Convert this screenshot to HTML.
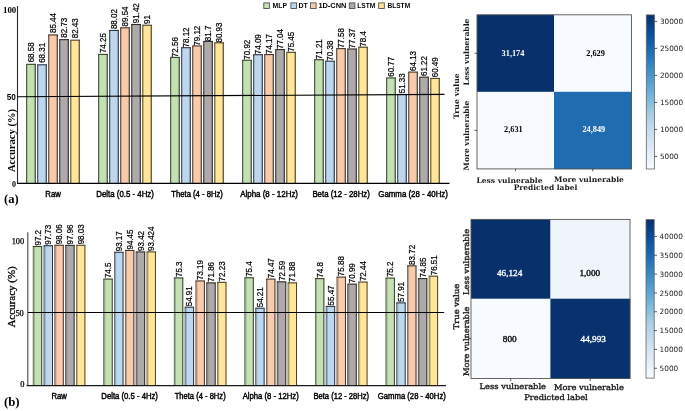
<!DOCTYPE html>
<html><head><meta charset="utf-8"><title>Accuracy and confusion matrices</title>
<style>html,body{margin:0;padding:0;background:#fff;}svg{display:block;filter:blur(0.3px);}</style></head>
<body><svg width="685" height="411" viewBox="0 0 685 411">
<rect width="685" height="411" fill="#fff"/>
<rect x="26.20" y="64.27" width="9.70" height="118.83" fill="#c5e0b3"/>
<rect x="33.90" y="64.27" width="1.2" height="118.83" fill="rgba(70,70,70,0.35)"/>
<rect x="35.10" y="64.27" width="0.8" height="118.83" fill="#34402c"/>
<rect x="26.20" y="64.27" width="1.0" height="118.83" fill="#34402c"/>
<rect x="26.20" y="63.77" width="9.70" height="1.1" fill="#34402c"/>
<text transform="translate(34.15,62.37) rotate(-90)" font-size="8.4" font-family='"Liberation Sans", Arial, sans-serif' font-weight="normal" text-anchor="start" fill="#000" textLength="19.97" lengthAdjust="spacingAndGlyphs" stroke="#000" stroke-width="0.22">68.58</text>
<rect x="37.23" y="64.74" width="9.70" height="118.36" fill="#bdd7ee"/>
<rect x="44.93" y="64.74" width="1.2" height="118.36" fill="rgba(70,70,70,0.35)"/>
<rect x="46.13" y="64.74" width="0.8" height="118.36" fill="#2a3544"/>
<rect x="37.23" y="64.74" width="1.0" height="118.36" fill="#2a3544"/>
<rect x="37.23" y="64.24" width="9.70" height="1.1" fill="#2a3544"/>
<text transform="translate(45.18,62.84) rotate(-90)" font-size="8.4" font-family='"Liberation Sans", Arial, sans-serif' font-weight="normal" text-anchor="start" fill="#000" textLength="19.97" lengthAdjust="spacingAndGlyphs" stroke="#000" stroke-width="0.22">68.31</text>
<rect x="48.26" y="34.88" width="9.70" height="148.22" fill="#f8cbad"/>
<rect x="55.96" y="34.88" width="1.2" height="148.22" fill="rgba(70,70,70,0.35)"/>
<rect x="57.16" y="34.88" width="0.8" height="148.22" fill="#443328"/>
<rect x="48.26" y="34.88" width="1.0" height="148.22" fill="#443328"/>
<rect x="48.26" y="34.38" width="9.70" height="1.1" fill="#443328"/>
<text transform="translate(56.21,32.98) rotate(-90)" font-size="8.4" font-family='"Liberation Sans", Arial, sans-serif' font-weight="normal" text-anchor="start" fill="#000" textLength="19.97" lengthAdjust="spacingAndGlyphs" stroke="#000" stroke-width="0.22">85.44</text>
<rect x="59.29" y="39.60" width="9.70" height="143.50" fill="#aeaaaa"/>
<rect x="66.99" y="39.60" width="1.2" height="143.50" fill="rgba(70,70,70,0.35)"/>
<rect x="68.19" y="39.60" width="0.8" height="143.50" fill="#2e2c2c"/>
<rect x="59.29" y="39.60" width="1.0" height="143.50" fill="#2e2c2c"/>
<rect x="59.29" y="39.10" width="9.70" height="1.1" fill="#2e2c2c"/>
<text transform="translate(67.24,37.70) rotate(-90)" font-size="8.4" font-family='"Liberation Sans", Arial, sans-serif' font-weight="normal" text-anchor="start" fill="#000" textLength="19.97" lengthAdjust="spacingAndGlyphs" stroke="#000" stroke-width="0.22">82.73</text>
<rect x="70.32" y="40.12" width="9.70" height="142.98" fill="#ffe699"/>
<rect x="78.02" y="40.12" width="1.2" height="142.98" fill="rgba(70,70,70,0.35)"/>
<rect x="79.22" y="40.12" width="0.8" height="142.98" fill="#4a4124"/>
<rect x="70.32" y="40.12" width="1.0" height="142.98" fill="#4a4124"/>
<rect x="70.32" y="39.62" width="9.70" height="1.1" fill="#4a4124"/>
<text transform="translate(78.27,38.22) rotate(-90)" font-size="8.4" font-family='"Liberation Sans", Arial, sans-serif' font-weight="normal" text-anchor="start" fill="#000" textLength="19.97" lengthAdjust="spacingAndGlyphs" stroke="#000" stroke-width="0.22">82.43</text>
<text x="53.11" y="197.00" font-size="8.3" font-family='"Liberation Sans", Arial, sans-serif' font-weight="normal" text-anchor="middle" fill="#000" textLength="15.6" lengthAdjust="spacingAndGlyphs" stroke="#000" stroke-width="0.42">Raw</text>
<rect x="98.20" y="54.38" width="9.70" height="128.72" fill="#c5e0b3"/>
<rect x="105.90" y="54.38" width="1.2" height="128.72" fill="rgba(70,70,70,0.35)"/>
<rect x="107.10" y="54.38" width="0.8" height="128.72" fill="#34402c"/>
<rect x="98.20" y="54.38" width="1.0" height="128.72" fill="#34402c"/>
<rect x="98.20" y="53.88" width="9.70" height="1.1" fill="#34402c"/>
<text transform="translate(106.15,53.08) rotate(-90)" font-size="8.4" font-family='"Liberation Sans", Arial, sans-serif' font-weight="normal" text-anchor="start" fill="#000" textLength="19.97" lengthAdjust="spacingAndGlyphs" stroke="#000" stroke-width="0.22">74.25</text>
<rect x="109.23" y="30.38" width="9.70" height="152.72" fill="#bdd7ee"/>
<rect x="116.93" y="30.38" width="1.2" height="152.72" fill="rgba(70,70,70,0.35)"/>
<rect x="118.13" y="30.38" width="0.8" height="152.72" fill="#2a3544"/>
<rect x="109.23" y="30.38" width="1.0" height="152.72" fill="#2a3544"/>
<rect x="109.23" y="29.88" width="9.70" height="1.1" fill="#2a3544"/>
<text transform="translate(117.18,29.08) rotate(-90)" font-size="8.4" font-family='"Liberation Sans", Arial, sans-serif' font-weight="normal" text-anchor="start" fill="#000" textLength="19.97" lengthAdjust="spacingAndGlyphs" stroke="#000" stroke-width="0.22">88.02</text>
<rect x="120.26" y="27.73" width="9.70" height="155.37" fill="#f8cbad"/>
<rect x="127.96" y="27.73" width="1.2" height="155.37" fill="rgba(70,70,70,0.35)"/>
<rect x="129.16" y="27.73" width="0.8" height="155.37" fill="#443328"/>
<rect x="120.26" y="27.73" width="1.0" height="155.37" fill="#443328"/>
<rect x="120.26" y="27.23" width="9.70" height="1.1" fill="#443328"/>
<text transform="translate(128.21,26.43) rotate(-90)" font-size="8.4" font-family='"Liberation Sans", Arial, sans-serif' font-weight="normal" text-anchor="start" fill="#000" textLength="19.97" lengthAdjust="spacingAndGlyphs" stroke="#000" stroke-width="0.22">89.54</text>
<rect x="131.29" y="24.45" width="9.70" height="158.65" fill="#aeaaaa"/>
<rect x="138.99" y="24.45" width="1.2" height="158.65" fill="rgba(70,70,70,0.35)"/>
<rect x="140.19" y="24.45" width="0.8" height="158.65" fill="#2e2c2c"/>
<rect x="131.29" y="24.45" width="1.0" height="158.65" fill="#2e2c2c"/>
<rect x="131.29" y="23.95" width="9.70" height="1.1" fill="#2e2c2c"/>
<text transform="translate(139.24,23.15) rotate(-90)" font-size="8.4" font-family='"Liberation Sans", Arial, sans-serif' font-weight="normal" text-anchor="start" fill="#000" textLength="19.97" lengthAdjust="spacingAndGlyphs" stroke="#000" stroke-width="0.22">91.42</text>
<rect x="142.32" y="25.19" width="9.70" height="157.91" fill="#ffe699"/>
<rect x="150.02" y="25.19" width="1.2" height="157.91" fill="rgba(70,70,70,0.35)"/>
<rect x="151.22" y="25.19" width="0.8" height="157.91" fill="#4a4124"/>
<rect x="142.32" y="25.19" width="1.0" height="157.91" fill="#4a4124"/>
<rect x="142.32" y="24.69" width="9.70" height="1.1" fill="#4a4124"/>
<text transform="translate(150.27,23.89) rotate(-90)" font-size="8.4" font-family='"Liberation Sans", Arial, sans-serif' font-weight="normal" text-anchor="start" fill="#000" textLength="8.88" lengthAdjust="spacingAndGlyphs" stroke="#000" stroke-width="0.22">91</text>
<text x="125.11" y="197.00" font-size="8.3" font-family='"Liberation Sans", Arial, sans-serif' font-weight="normal" text-anchor="middle" fill="#000" textLength="57.6" lengthAdjust="spacingAndGlyphs" stroke="#000" stroke-width="0.42">Delta (0.5 - 4Hz)</text>
<rect x="170.20" y="57.33" width="9.70" height="125.77" fill="#c5e0b3"/>
<rect x="177.90" y="57.33" width="1.2" height="125.77" fill="rgba(70,70,70,0.35)"/>
<rect x="179.10" y="57.33" width="0.8" height="125.77" fill="#34402c"/>
<rect x="170.20" y="57.33" width="1.0" height="125.77" fill="#34402c"/>
<rect x="170.20" y="56.83" width="9.70" height="1.1" fill="#34402c"/>
<text transform="translate(178.15,57.13) rotate(-90)" font-size="8.4" font-family='"Liberation Sans", Arial, sans-serif' font-weight="normal" text-anchor="start" fill="#000" textLength="19.97" lengthAdjust="spacingAndGlyphs" stroke="#000" stroke-width="0.22">72.56</text>
<rect x="181.23" y="47.64" width="9.70" height="135.46" fill="#bdd7ee"/>
<rect x="188.93" y="47.64" width="1.2" height="135.46" fill="rgba(70,70,70,0.35)"/>
<rect x="190.13" y="47.64" width="0.8" height="135.46" fill="#2a3544"/>
<rect x="181.23" y="47.64" width="1.0" height="135.46" fill="#2a3544"/>
<rect x="181.23" y="47.14" width="9.70" height="1.1" fill="#2a3544"/>
<text transform="translate(189.18,47.44) rotate(-90)" font-size="8.4" font-family='"Liberation Sans", Arial, sans-serif' font-weight="normal" text-anchor="start" fill="#000" textLength="19.97" lengthAdjust="spacingAndGlyphs" stroke="#000" stroke-width="0.22">78.12</text>
<rect x="192.26" y="45.89" width="9.70" height="137.21" fill="#f8cbad"/>
<rect x="199.96" y="45.89" width="1.2" height="137.21" fill="rgba(70,70,70,0.35)"/>
<rect x="201.16" y="45.89" width="0.8" height="137.21" fill="#443328"/>
<rect x="192.26" y="45.89" width="1.0" height="137.21" fill="#443328"/>
<rect x="192.26" y="45.39" width="9.70" height="1.1" fill="#443328"/>
<text transform="translate(200.21,45.69) rotate(-90)" font-size="8.4" font-family='"Liberation Sans", Arial, sans-serif' font-weight="normal" text-anchor="start" fill="#000" textLength="19.97" lengthAdjust="spacingAndGlyphs" stroke="#000" stroke-width="0.22">79.12</text>
<rect x="203.29" y="41.40" width="9.70" height="141.70" fill="#aeaaaa"/>
<rect x="210.99" y="41.40" width="1.2" height="141.70" fill="rgba(70,70,70,0.35)"/>
<rect x="212.19" y="41.40" width="0.8" height="141.70" fill="#2e2c2c"/>
<rect x="203.29" y="41.40" width="1.0" height="141.70" fill="#2e2c2c"/>
<rect x="203.29" y="40.90" width="9.70" height="1.1" fill="#2e2c2c"/>
<text transform="translate(211.24,41.20) rotate(-90)" font-size="8.4" font-family='"Liberation Sans", Arial, sans-serif' font-weight="normal" text-anchor="start" fill="#000" textLength="15.53" lengthAdjust="spacingAndGlyphs" stroke="#000" stroke-width="0.22">81.7</text>
<rect x="214.32" y="42.74" width="9.70" height="140.36" fill="#ffe699"/>
<rect x="222.02" y="42.74" width="1.2" height="140.36" fill="rgba(70,70,70,0.35)"/>
<rect x="223.22" y="42.74" width="0.8" height="140.36" fill="#4a4124"/>
<rect x="214.32" y="42.74" width="1.0" height="140.36" fill="#4a4124"/>
<rect x="214.32" y="42.24" width="9.70" height="1.1" fill="#4a4124"/>
<text transform="translate(222.27,42.54) rotate(-90)" font-size="8.4" font-family='"Liberation Sans", Arial, sans-serif' font-weight="normal" text-anchor="start" fill="#000" textLength="19.97" lengthAdjust="spacingAndGlyphs" stroke="#000" stroke-width="0.22">80.93</text>
<text x="197.11" y="197.00" font-size="8.3" font-family='"Liberation Sans", Arial, sans-serif' font-weight="normal" text-anchor="middle" fill="#000" textLength="51.6" lengthAdjust="spacingAndGlyphs" stroke="#000" stroke-width="0.42">Theta (4 - 8Hz)</text>
<rect x="242.20" y="60.19" width="9.70" height="122.91" fill="#c5e0b3"/>
<rect x="249.90" y="60.19" width="1.2" height="122.91" fill="rgba(70,70,70,0.35)"/>
<rect x="251.10" y="60.19" width="0.8" height="122.91" fill="#34402c"/>
<rect x="242.20" y="60.19" width="1.0" height="122.91" fill="#34402c"/>
<rect x="242.20" y="59.69" width="9.70" height="1.1" fill="#34402c"/>
<text transform="translate(250.15,59.69) rotate(-90)" font-size="8.4" font-family='"Liberation Sans", Arial, sans-serif' font-weight="normal" text-anchor="start" fill="#000" textLength="19.97" lengthAdjust="spacingAndGlyphs" stroke="#000" stroke-width="0.22">70.92</text>
<rect x="253.23" y="54.66" width="9.70" height="128.44" fill="#bdd7ee"/>
<rect x="260.93" y="54.66" width="1.2" height="128.44" fill="rgba(70,70,70,0.35)"/>
<rect x="262.13" y="54.66" width="0.8" height="128.44" fill="#2a3544"/>
<rect x="253.23" y="54.66" width="1.0" height="128.44" fill="#2a3544"/>
<rect x="253.23" y="54.16" width="9.70" height="1.1" fill="#2a3544"/>
<text transform="translate(261.18,54.16) rotate(-90)" font-size="8.4" font-family='"Liberation Sans", Arial, sans-serif' font-weight="normal" text-anchor="start" fill="#000" textLength="19.97" lengthAdjust="spacingAndGlyphs" stroke="#000" stroke-width="0.22">74.09</text>
<rect x="264.26" y="54.52" width="9.70" height="128.58" fill="#f8cbad"/>
<rect x="271.96" y="54.52" width="1.2" height="128.58" fill="rgba(70,70,70,0.35)"/>
<rect x="273.16" y="54.52" width="0.8" height="128.58" fill="#443328"/>
<rect x="264.26" y="54.52" width="1.0" height="128.58" fill="#443328"/>
<rect x="264.26" y="54.02" width="9.70" height="1.1" fill="#443328"/>
<text transform="translate(272.21,54.02) rotate(-90)" font-size="8.4" font-family='"Liberation Sans", Arial, sans-serif' font-weight="normal" text-anchor="start" fill="#000" textLength="19.97" lengthAdjust="spacingAndGlyphs" stroke="#000" stroke-width="0.22">74.17</text>
<rect x="275.29" y="49.52" width="9.70" height="133.58" fill="#aeaaaa"/>
<rect x="282.99" y="49.52" width="1.2" height="133.58" fill="rgba(70,70,70,0.35)"/>
<rect x="284.19" y="49.52" width="0.8" height="133.58" fill="#2e2c2c"/>
<rect x="275.29" y="49.52" width="1.0" height="133.58" fill="#2e2c2c"/>
<rect x="275.29" y="49.02" width="9.70" height="1.1" fill="#2e2c2c"/>
<text transform="translate(283.24,49.02) rotate(-90)" font-size="8.4" font-family='"Liberation Sans", Arial, sans-serif' font-weight="normal" text-anchor="start" fill="#000" textLength="19.97" lengthAdjust="spacingAndGlyphs" stroke="#000" stroke-width="0.22">77.04</text>
<rect x="286.32" y="52.29" width="9.70" height="130.81" fill="#ffe699"/>
<rect x="294.02" y="52.29" width="1.2" height="130.81" fill="rgba(70,70,70,0.35)"/>
<rect x="295.22" y="52.29" width="0.8" height="130.81" fill="#4a4124"/>
<rect x="286.32" y="52.29" width="1.0" height="130.81" fill="#4a4124"/>
<rect x="286.32" y="51.79" width="9.70" height="1.1" fill="#4a4124"/>
<text transform="translate(294.27,51.79) rotate(-90)" font-size="8.4" font-family='"Liberation Sans", Arial, sans-serif' font-weight="normal" text-anchor="start" fill="#000" textLength="19.97" lengthAdjust="spacingAndGlyphs" stroke="#000" stroke-width="0.22">75.45</text>
<text x="269.11" y="197.00" font-size="8.3" font-family='"Liberation Sans", Arial, sans-serif' font-weight="normal" text-anchor="middle" fill="#000" textLength="57.8" lengthAdjust="spacingAndGlyphs" stroke="#000" stroke-width="0.42">Alpha (8 - 12Hz)</text>
<rect x="314.20" y="59.68" width="9.70" height="123.42" fill="#c5e0b3"/>
<rect x="321.90" y="59.68" width="1.2" height="123.42" fill="rgba(70,70,70,0.35)"/>
<rect x="323.10" y="59.68" width="0.8" height="123.42" fill="#34402c"/>
<rect x="314.20" y="59.68" width="1.0" height="123.42" fill="#34402c"/>
<rect x="314.20" y="59.18" width="9.70" height="1.1" fill="#34402c"/>
<text transform="translate(322.15,59.18) rotate(-90)" font-size="8.4" font-family='"Liberation Sans", Arial, sans-serif' font-weight="normal" text-anchor="start" fill="#000" textLength="19.97" lengthAdjust="spacingAndGlyphs" stroke="#000" stroke-width="0.22">71.21</text>
<rect x="325.23" y="61.13" width="9.70" height="121.97" fill="#bdd7ee"/>
<rect x="332.93" y="61.13" width="1.2" height="121.97" fill="rgba(70,70,70,0.35)"/>
<rect x="334.13" y="61.13" width="0.8" height="121.97" fill="#2a3544"/>
<rect x="325.23" y="61.13" width="1.0" height="121.97" fill="#2a3544"/>
<rect x="325.23" y="60.63" width="9.70" height="1.1" fill="#2a3544"/>
<text transform="translate(333.18,60.63) rotate(-90)" font-size="8.4" font-family='"Liberation Sans", Arial, sans-serif' font-weight="normal" text-anchor="start" fill="#000" textLength="19.97" lengthAdjust="spacingAndGlyphs" stroke="#000" stroke-width="0.22">70.38</text>
<rect x="336.26" y="48.58" width="9.70" height="134.52" fill="#f8cbad"/>
<rect x="343.96" y="48.58" width="1.2" height="134.52" fill="rgba(70,70,70,0.35)"/>
<rect x="345.16" y="48.58" width="0.8" height="134.52" fill="#443328"/>
<rect x="336.26" y="48.58" width="1.0" height="134.52" fill="#443328"/>
<rect x="336.26" y="48.08" width="9.70" height="1.1" fill="#443328"/>
<text transform="translate(344.21,48.08) rotate(-90)" font-size="8.4" font-family='"Liberation Sans", Arial, sans-serif' font-weight="normal" text-anchor="start" fill="#000" textLength="19.97" lengthAdjust="spacingAndGlyphs" stroke="#000" stroke-width="0.22">77.58</text>
<rect x="347.29" y="48.94" width="9.70" height="134.16" fill="#aeaaaa"/>
<rect x="354.99" y="48.94" width="1.2" height="134.16" fill="rgba(70,70,70,0.35)"/>
<rect x="356.19" y="48.94" width="0.8" height="134.16" fill="#2e2c2c"/>
<rect x="347.29" y="48.94" width="1.0" height="134.16" fill="#2e2c2c"/>
<rect x="347.29" y="48.44" width="9.70" height="1.1" fill="#2e2c2c"/>
<text transform="translate(355.24,48.44) rotate(-90)" font-size="8.4" font-family='"Liberation Sans", Arial, sans-serif' font-weight="normal" text-anchor="start" fill="#000" textLength="19.97" lengthAdjust="spacingAndGlyphs" stroke="#000" stroke-width="0.22">77.37</text>
<rect x="358.32" y="47.15" width="9.70" height="135.95" fill="#ffe699"/>
<rect x="366.02" y="47.15" width="1.2" height="135.95" fill="rgba(70,70,70,0.35)"/>
<rect x="367.22" y="47.15" width="0.8" height="135.95" fill="#4a4124"/>
<rect x="358.32" y="47.15" width="1.0" height="135.95" fill="#4a4124"/>
<rect x="358.32" y="46.65" width="9.70" height="1.1" fill="#4a4124"/>
<text transform="translate(366.27,46.65) rotate(-90)" font-size="8.4" font-family='"Liberation Sans", Arial, sans-serif' font-weight="normal" text-anchor="start" fill="#000" textLength="15.53" lengthAdjust="spacingAndGlyphs" stroke="#000" stroke-width="0.22">78.4</text>
<text x="341.11" y="197.00" font-size="8.3" font-family='"Liberation Sans", Arial, sans-serif' font-weight="normal" text-anchor="middle" fill="#000" textLength="57.4" lengthAdjust="spacingAndGlyphs" stroke="#000" stroke-width="0.42">Beta (12 - 28Hz)</text>
<rect x="386.20" y="77.88" width="9.70" height="105.22" fill="#c5e0b3"/>
<rect x="393.90" y="77.88" width="1.2" height="105.22" fill="rgba(70,70,70,0.35)"/>
<rect x="395.10" y="77.88" width="0.8" height="105.22" fill="#34402c"/>
<rect x="386.20" y="77.88" width="1.0" height="105.22" fill="#34402c"/>
<rect x="386.20" y="77.38" width="9.70" height="1.1" fill="#34402c"/>
<text transform="translate(394.15,76.78) rotate(-90)" font-size="8.4" font-family='"Liberation Sans", Arial, sans-serif' font-weight="normal" text-anchor="start" fill="#000" textLength="19.97" lengthAdjust="spacingAndGlyphs" stroke="#000" stroke-width="0.22">60.77</text>
<rect x="397.23" y="94.33" width="9.70" height="88.77" fill="#bdd7ee"/>
<rect x="404.93" y="94.33" width="1.2" height="88.77" fill="rgba(70,70,70,0.35)"/>
<rect x="406.13" y="94.33" width="0.8" height="88.77" fill="#2a3544"/>
<rect x="397.23" y="94.33" width="1.0" height="88.77" fill="#2a3544"/>
<rect x="397.23" y="93.83" width="9.70" height="1.1" fill="#2a3544"/>
<text transform="translate(405.18,93.23) rotate(-90)" font-size="8.4" font-family='"Liberation Sans", Arial, sans-serif' font-weight="normal" text-anchor="start" fill="#000" textLength="19.97" lengthAdjust="spacingAndGlyphs" stroke="#000" stroke-width="0.22">51.33</text>
<rect x="408.26" y="72.02" width="9.70" height="111.08" fill="#f8cbad"/>
<rect x="415.96" y="72.02" width="1.2" height="111.08" fill="rgba(70,70,70,0.35)"/>
<rect x="417.16" y="72.02" width="0.8" height="111.08" fill="#443328"/>
<rect x="408.26" y="72.02" width="1.0" height="111.08" fill="#443328"/>
<rect x="408.26" y="71.52" width="9.70" height="1.1" fill="#443328"/>
<text transform="translate(416.21,70.92) rotate(-90)" font-size="8.4" font-family='"Liberation Sans", Arial, sans-serif' font-weight="normal" text-anchor="start" fill="#000" textLength="19.97" lengthAdjust="spacingAndGlyphs" stroke="#000" stroke-width="0.22">64.13</text>
<rect x="419.29" y="77.09" width="9.70" height="106.01" fill="#aeaaaa"/>
<rect x="426.99" y="77.09" width="1.2" height="106.01" fill="rgba(70,70,70,0.35)"/>
<rect x="428.19" y="77.09" width="0.8" height="106.01" fill="#2e2c2c"/>
<rect x="419.29" y="77.09" width="1.0" height="106.01" fill="#2e2c2c"/>
<rect x="419.29" y="76.59" width="9.70" height="1.1" fill="#2e2c2c"/>
<text transform="translate(427.24,75.99) rotate(-90)" font-size="8.4" font-family='"Liberation Sans", Arial, sans-serif' font-weight="normal" text-anchor="start" fill="#000" textLength="19.97" lengthAdjust="spacingAndGlyphs" stroke="#000" stroke-width="0.22">61.22</text>
<rect x="430.32" y="78.37" width="9.70" height="104.73" fill="#ffe699"/>
<rect x="438.02" y="78.37" width="1.2" height="104.73" fill="rgba(70,70,70,0.35)"/>
<rect x="439.22" y="78.37" width="0.8" height="104.73" fill="#4a4124"/>
<rect x="430.32" y="78.37" width="1.0" height="104.73" fill="#4a4124"/>
<rect x="430.32" y="77.87" width="9.70" height="1.1" fill="#4a4124"/>
<text transform="translate(438.27,77.27) rotate(-90)" font-size="8.4" font-family='"Liberation Sans", Arial, sans-serif' font-weight="normal" text-anchor="start" fill="#000" textLength="19.97" lengthAdjust="spacingAndGlyphs" stroke="#000" stroke-width="0.22">60.49</text>
<text x="413.11" y="197.00" font-size="8.3" font-family='"Liberation Sans", Arial, sans-serif' font-weight="normal" text-anchor="middle" fill="#000" textLength="69.6" lengthAdjust="spacingAndGlyphs" stroke="#000" stroke-width="0.42">Gamma (28 - 40Hz)</text>
<line x1="17.5" y1="6" x2="17.5" y2="183.6" stroke="#2a2a2a" stroke-width="1.1"/>
<line x1="17.0" y1="183.4" x2="449.5" y2="183.4" stroke="#000" stroke-width="1.2"/>
<line x1="17.1" y1="96.7" x2="444.5" y2="94.4" stroke="#000" stroke-width="1.1"/>
<text x="16.30" y="12.90" font-size="8.9" font-family='"Liberation Serif", "Times New Roman", serif' font-weight="bold" text-anchor="end" fill="#000">100</text>
<text x="15.90" y="99.80" font-size="8.2" font-family='"Liberation Sans", Arial, sans-serif' font-weight="bold" text-anchor="end" fill="#000">50</text>
<text x="15.90" y="186.70" font-size="8.0" font-family='"Liberation Serif", "Times New Roman", serif' font-weight="bold" text-anchor="end" fill="#000">0</text>
<text transform="translate(15.00,172.10) rotate(-90)" font-size="10.6" font-family='"Liberation Serif", "Times New Roman", serif' font-weight="bold" text-anchor="start" fill="#000">Accuracy (%)</text>
<text x="4.10" y="202.60" font-size="12.6" font-family='"Liberation Serif", "Times New Roman", serif' font-weight="bold" text-anchor="start" fill="#000">(a)</text>
<rect x="263.80" y="2.9" width="5.6" height="5.6" fill="#c5e0b3" stroke="#505050" stroke-width="0.9"/>
<text x="272.60" y="8.40" font-size="7.4" font-family='"Liberation Sans", Arial, sans-serif' font-weight="bold" text-anchor="start" fill="#000" textLength="14.5" lengthAdjust="spacingAndGlyphs">MLP</text>
<rect x="290.90" y="2.9" width="5.6" height="5.6" fill="#bdd7ee" stroke="#505050" stroke-width="0.9"/>
<text x="298.50" y="8.40" font-size="7.4" font-family='"Liberation Sans", Arial, sans-serif' font-weight="bold" text-anchor="start" fill="#000" textLength="9.4" lengthAdjust="spacingAndGlyphs">DT</text>
<rect x="310.50" y="2.9" width="5.6" height="5.6" fill="#f8cbad" stroke="#505050" stroke-width="0.9"/>
<text x="318.40" y="8.40" font-size="7.4" font-family='"Liberation Sans", Arial, sans-serif' font-weight="bold" text-anchor="start" fill="#000" textLength="28.0" lengthAdjust="spacingAndGlyphs">1D-CNN</text>
<rect x="349.30" y="2.9" width="5.6" height="5.6" fill="#aeaaaa" stroke="#505050" stroke-width="0.9"/>
<text x="357.30" y="8.40" font-size="7.4" font-family='"Liberation Sans", Arial, sans-serif' font-weight="bold" text-anchor="start" fill="#000" textLength="18.0" lengthAdjust="spacingAndGlyphs">LSTM</text>
<rect x="378.70" y="2.9" width="5.6" height="5.6" fill="#ffe699" stroke="#505050" stroke-width="0.9"/>
<text x="387.50" y="8.40" font-size="7.4" font-family='"Liberation Sans", Arial, sans-serif' font-weight="bold" text-anchor="start" fill="#000" textLength="22.6" lengthAdjust="spacingAndGlyphs">BLSTM</text>
<rect x="32.80" y="246.42" width="9.40" height="139.18" fill="#c5e0b3"/>
<rect x="33.30" y="246.42" width="1.5" height="139.18" fill="rgba(70,70,70,0.35)"/>
<rect x="32.80" y="246.42" width="0.7" height="139.18" fill="#34402c" fill-opacity="0.8"/>
<rect x="41.20" y="246.42" width="1.0" height="139.18" fill="#34402c"/>
<rect x="32.80" y="245.92" width="9.40" height="1.1" fill="#34402c"/>
<text transform="translate(40.60,245.52) rotate(-90)" font-size="8.4" font-family='"Liberation Sans", Arial, sans-serif' font-weight="normal" text-anchor="start" fill="#000" textLength="15.53" lengthAdjust="spacingAndGlyphs" stroke="#000" stroke-width="0.22">97.2</text>
<rect x="43.60" y="245.66" width="9.40" height="139.94" fill="#bdd7ee"/>
<rect x="44.10" y="245.66" width="1.5" height="139.94" fill="rgba(70,70,70,0.35)"/>
<rect x="43.60" y="245.66" width="0.7" height="139.94" fill="#2a3544" fill-opacity="0.8"/>
<rect x="52.00" y="245.66" width="1.0" height="139.94" fill="#2a3544"/>
<rect x="43.60" y="245.16" width="9.40" height="1.1" fill="#2a3544"/>
<text transform="translate(51.40,244.76) rotate(-90)" font-size="8.4" font-family='"Liberation Sans", Arial, sans-serif' font-weight="normal" text-anchor="start" fill="#000" textLength="19.97" lengthAdjust="spacingAndGlyphs" stroke="#000" stroke-width="0.22">97.73</text>
<rect x="54.40" y="245.19" width="9.40" height="140.41" fill="#f8cbad"/>
<rect x="54.90" y="245.19" width="1.5" height="140.41" fill="rgba(70,70,70,0.35)"/>
<rect x="54.40" y="245.19" width="0.7" height="140.41" fill="#443328" fill-opacity="0.8"/>
<rect x="62.80" y="245.19" width="1.0" height="140.41" fill="#443328"/>
<rect x="54.40" y="244.69" width="9.40" height="1.1" fill="#443328"/>
<text transform="translate(62.20,244.29) rotate(-90)" font-size="8.4" font-family='"Liberation Sans", Arial, sans-serif' font-weight="normal" text-anchor="start" fill="#000" textLength="19.97" lengthAdjust="spacingAndGlyphs" stroke="#000" stroke-width="0.22">98.06</text>
<rect x="65.20" y="245.33" width="9.40" height="140.27" fill="#aeaaaa"/>
<rect x="65.70" y="245.33" width="1.5" height="140.27" fill="rgba(70,70,70,0.35)"/>
<rect x="65.20" y="245.33" width="0.7" height="140.27" fill="#2e2c2c" fill-opacity="0.8"/>
<rect x="73.60" y="245.33" width="1.0" height="140.27" fill="#2e2c2c"/>
<rect x="65.20" y="244.83" width="9.40" height="1.1" fill="#2e2c2c"/>
<text transform="translate(73.00,244.43) rotate(-90)" font-size="8.4" font-family='"Liberation Sans", Arial, sans-serif' font-weight="normal" text-anchor="start" fill="#000" textLength="19.97" lengthAdjust="spacingAndGlyphs" stroke="#000" stroke-width="0.22">97.96</text>
<rect x="76.00" y="245.23" width="9.40" height="140.37" fill="#ffe699"/>
<rect x="76.50" y="245.23" width="1.5" height="140.37" fill="rgba(70,70,70,0.35)"/>
<rect x="76.00" y="245.23" width="0.7" height="140.37" fill="#4a4124" fill-opacity="0.8"/>
<rect x="84.40" y="245.23" width="1.0" height="140.37" fill="#4a4124"/>
<rect x="76.00" y="244.73" width="9.40" height="1.1" fill="#4a4124"/>
<text transform="translate(83.80,244.33) rotate(-90)" font-size="8.4" font-family='"Liberation Sans", Arial, sans-serif' font-weight="normal" text-anchor="start" fill="#000" textLength="19.97" lengthAdjust="spacingAndGlyphs" stroke="#000" stroke-width="0.22">98.03</text>
<text x="59.10" y="398.90" font-size="8.2" font-family='"Liberation Sans", Arial, sans-serif' font-weight="normal" text-anchor="middle" fill="#000" textLength="15.4" lengthAdjust="spacingAndGlyphs" stroke="#000" stroke-width="0.42">Raw</text>
<rect x="103.34" y="279.02" width="9.40" height="106.58" fill="#c5e0b3"/>
<rect x="103.84" y="279.02" width="1.5" height="106.58" fill="rgba(70,70,70,0.35)"/>
<rect x="103.34" y="279.02" width="0.7" height="106.58" fill="#34402c" fill-opacity="0.8"/>
<rect x="111.74" y="279.02" width="1.0" height="106.58" fill="#34402c"/>
<rect x="103.34" y="278.52" width="9.40" height="1.1" fill="#34402c"/>
<text transform="translate(111.14,278.12) rotate(-90)" font-size="8.4" font-family='"Liberation Sans", Arial, sans-serif' font-weight="normal" text-anchor="start" fill="#000" textLength="15.53" lengthAdjust="spacingAndGlyphs" stroke="#000" stroke-width="0.22">74.5</text>
<rect x="114.14" y="252.21" width="9.40" height="133.39" fill="#bdd7ee"/>
<rect x="114.64" y="252.21" width="1.5" height="133.39" fill="rgba(70,70,70,0.35)"/>
<rect x="114.14" y="252.21" width="0.7" height="133.39" fill="#2a3544" fill-opacity="0.8"/>
<rect x="122.54" y="252.21" width="1.0" height="133.39" fill="#2a3544"/>
<rect x="114.14" y="251.71" width="9.40" height="1.1" fill="#2a3544"/>
<text transform="translate(121.94,251.31) rotate(-90)" font-size="8.4" font-family='"Liberation Sans", Arial, sans-serif' font-weight="normal" text-anchor="start" fill="#000" textLength="19.97" lengthAdjust="spacingAndGlyphs" stroke="#000" stroke-width="0.22">93.17</text>
<rect x="124.94" y="250.37" width="9.40" height="135.23" fill="#f8cbad"/>
<rect x="125.44" y="250.37" width="1.5" height="135.23" fill="rgba(70,70,70,0.35)"/>
<rect x="124.94" y="250.37" width="0.7" height="135.23" fill="#443328" fill-opacity="0.8"/>
<rect x="133.34" y="250.37" width="1.0" height="135.23" fill="#443328"/>
<rect x="124.94" y="249.87" width="9.40" height="1.1" fill="#443328"/>
<text transform="translate(132.74,249.47) rotate(-90)" font-size="8.4" font-family='"Liberation Sans", Arial, sans-serif' font-weight="normal" text-anchor="start" fill="#000" textLength="19.97" lengthAdjust="spacingAndGlyphs" stroke="#000" stroke-width="0.22">94.45</text>
<rect x="135.74" y="251.85" width="9.40" height="133.75" fill="#aeaaaa"/>
<rect x="136.24" y="251.85" width="1.5" height="133.75" fill="rgba(70,70,70,0.35)"/>
<rect x="135.74" y="251.85" width="0.7" height="133.75" fill="#2e2c2c" fill-opacity="0.8"/>
<rect x="144.14" y="251.85" width="1.0" height="133.75" fill="#2e2c2c"/>
<rect x="135.74" y="251.35" width="9.40" height="1.1" fill="#2e2c2c"/>
<text transform="translate(143.54,250.95) rotate(-90)" font-size="8.4" font-family='"Liberation Sans", Arial, sans-serif' font-weight="normal" text-anchor="start" fill="#000" textLength="19.97" lengthAdjust="spacingAndGlyphs" stroke="#000" stroke-width="0.22">93.42</text>
<rect x="146.54" y="251.84" width="9.40" height="133.76" fill="#ffe699"/>
<rect x="147.04" y="251.84" width="1.5" height="133.76" fill="rgba(70,70,70,0.35)"/>
<rect x="146.54" y="251.84" width="0.7" height="133.76" fill="#4a4124" fill-opacity="0.8"/>
<rect x="154.94" y="251.84" width="1.0" height="133.76" fill="#4a4124"/>
<rect x="146.54" y="251.34" width="9.40" height="1.1" fill="#4a4124"/>
<text transform="translate(154.34,250.94) rotate(-90)" font-size="8.4" font-family='"Liberation Sans", Arial, sans-serif' font-weight="normal" text-anchor="start" fill="#000" textLength="24.41" lengthAdjust="spacingAndGlyphs" stroke="#000" stroke-width="0.22">93.424</text>
<text x="129.64" y="398.90" font-size="8.2" font-family='"Liberation Sans", Arial, sans-serif' font-weight="normal" text-anchor="middle" fill="#000" textLength="56.6" lengthAdjust="spacingAndGlyphs" stroke="#000" stroke-width="0.42">Delta (0.5 - 4Hz)</text>
<rect x="173.88" y="277.87" width="9.40" height="107.73" fill="#c5e0b3"/>
<rect x="174.38" y="277.87" width="1.5" height="107.73" fill="rgba(70,70,70,0.35)"/>
<rect x="173.88" y="277.87" width="0.7" height="107.73" fill="#34402c" fill-opacity="0.8"/>
<rect x="182.28" y="277.87" width="1.0" height="107.73" fill="#34402c"/>
<rect x="173.88" y="277.37" width="9.40" height="1.1" fill="#34402c"/>
<text transform="translate(181.68,276.97) rotate(-90)" font-size="8.4" font-family='"Liberation Sans", Arial, sans-serif' font-weight="normal" text-anchor="start" fill="#000" textLength="15.53" lengthAdjust="spacingAndGlyphs" stroke="#000" stroke-width="0.22">75.3</text>
<rect x="184.68" y="307.15" width="9.40" height="78.45" fill="#bdd7ee"/>
<rect x="185.18" y="307.15" width="1.5" height="78.45" fill="rgba(70,70,70,0.35)"/>
<rect x="184.68" y="307.15" width="0.7" height="78.45" fill="#2a3544" fill-opacity="0.8"/>
<rect x="193.08" y="307.15" width="1.0" height="78.45" fill="#2a3544"/>
<rect x="184.68" y="306.65" width="9.40" height="1.1" fill="#2a3544"/>
<text transform="translate(192.48,306.25) rotate(-90)" font-size="8.4" font-family='"Liberation Sans", Arial, sans-serif' font-weight="normal" text-anchor="start" fill="#000" textLength="19.97" lengthAdjust="spacingAndGlyphs" stroke="#000" stroke-width="0.22">54.91</text>
<rect x="195.48" y="280.90" width="9.40" height="104.70" fill="#f8cbad"/>
<rect x="195.98" y="280.90" width="1.5" height="104.70" fill="rgba(70,70,70,0.35)"/>
<rect x="195.48" y="280.90" width="0.7" height="104.70" fill="#443328" fill-opacity="0.8"/>
<rect x="203.88" y="280.90" width="1.0" height="104.70" fill="#443328"/>
<rect x="195.48" y="280.40" width="9.40" height="1.1" fill="#443328"/>
<text transform="translate(203.28,280.00) rotate(-90)" font-size="8.4" font-family='"Liberation Sans", Arial, sans-serif' font-weight="normal" text-anchor="start" fill="#000" textLength="19.97" lengthAdjust="spacingAndGlyphs" stroke="#000" stroke-width="0.22">73.19</text>
<rect x="206.28" y="282.81" width="9.40" height="102.79" fill="#aeaaaa"/>
<rect x="206.78" y="282.81" width="1.5" height="102.79" fill="rgba(70,70,70,0.35)"/>
<rect x="206.28" y="282.81" width="0.7" height="102.79" fill="#2e2c2c" fill-opacity="0.8"/>
<rect x="214.68" y="282.81" width="1.0" height="102.79" fill="#2e2c2c"/>
<rect x="206.28" y="282.31" width="9.40" height="1.1" fill="#2e2c2c"/>
<text transform="translate(214.08,281.91) rotate(-90)" font-size="8.4" font-family='"Liberation Sans", Arial, sans-serif' font-weight="normal" text-anchor="start" fill="#000" textLength="19.97" lengthAdjust="spacingAndGlyphs" stroke="#000" stroke-width="0.22">71.86</text>
<rect x="217.08" y="282.28" width="9.40" height="103.32" fill="#ffe699"/>
<rect x="217.58" y="282.28" width="1.5" height="103.32" fill="rgba(70,70,70,0.35)"/>
<rect x="217.08" y="282.28" width="0.7" height="103.32" fill="#4a4124" fill-opacity="0.8"/>
<rect x="225.48" y="282.28" width="1.0" height="103.32" fill="#4a4124"/>
<rect x="217.08" y="281.78" width="9.40" height="1.1" fill="#4a4124"/>
<text transform="translate(224.88,281.38) rotate(-90)" font-size="8.4" font-family='"Liberation Sans", Arial, sans-serif' font-weight="normal" text-anchor="start" fill="#000" textLength="19.97" lengthAdjust="spacingAndGlyphs" stroke="#000" stroke-width="0.22">72.23</text>
<text x="200.18" y="398.90" font-size="8.2" font-family='"Liberation Sans", Arial, sans-serif' font-weight="normal" text-anchor="middle" fill="#000" textLength="51.0" lengthAdjust="spacingAndGlyphs" stroke="#000" stroke-width="0.42">Theta (4 - 8Hz)</text>
<rect x="244.42" y="277.73" width="9.40" height="107.87" fill="#c5e0b3"/>
<rect x="244.92" y="277.73" width="1.5" height="107.87" fill="rgba(70,70,70,0.35)"/>
<rect x="244.42" y="277.73" width="0.7" height="107.87" fill="#34402c" fill-opacity="0.8"/>
<rect x="252.82" y="277.73" width="1.0" height="107.87" fill="#34402c"/>
<rect x="244.42" y="277.23" width="9.40" height="1.1" fill="#34402c"/>
<text transform="translate(252.22,276.83) rotate(-90)" font-size="8.4" font-family='"Liberation Sans", Arial, sans-serif' font-weight="normal" text-anchor="start" fill="#000" textLength="15.53" lengthAdjust="spacingAndGlyphs" stroke="#000" stroke-width="0.22">75.4</text>
<rect x="255.22" y="308.15" width="9.40" height="77.45" fill="#bdd7ee"/>
<rect x="255.72" y="308.15" width="1.5" height="77.45" fill="rgba(70,70,70,0.35)"/>
<rect x="255.22" y="308.15" width="0.7" height="77.45" fill="#2a3544" fill-opacity="0.8"/>
<rect x="263.62" y="308.15" width="1.0" height="77.45" fill="#2a3544"/>
<rect x="255.22" y="307.65" width="9.40" height="1.1" fill="#2a3544"/>
<text transform="translate(263.02,307.25) rotate(-90)" font-size="8.4" font-family='"Liberation Sans", Arial, sans-serif' font-weight="normal" text-anchor="start" fill="#000" textLength="19.97" lengthAdjust="spacingAndGlyphs" stroke="#000" stroke-width="0.22">54.21</text>
<rect x="266.02" y="279.06" width="9.40" height="106.54" fill="#f8cbad"/>
<rect x="266.52" y="279.06" width="1.5" height="106.54" fill="rgba(70,70,70,0.35)"/>
<rect x="266.02" y="279.06" width="0.7" height="106.54" fill="#443328" fill-opacity="0.8"/>
<rect x="274.42" y="279.06" width="1.0" height="106.54" fill="#443328"/>
<rect x="266.02" y="278.56" width="9.40" height="1.1" fill="#443328"/>
<text transform="translate(273.82,278.16) rotate(-90)" font-size="8.4" font-family='"Liberation Sans", Arial, sans-serif' font-weight="normal" text-anchor="start" fill="#000" textLength="19.97" lengthAdjust="spacingAndGlyphs" stroke="#000" stroke-width="0.22">74.47</text>
<rect x="276.82" y="281.76" width="9.40" height="103.84" fill="#aeaaaa"/>
<rect x="277.32" y="281.76" width="1.5" height="103.84" fill="rgba(70,70,70,0.35)"/>
<rect x="276.82" y="281.76" width="0.7" height="103.84" fill="#2e2c2c" fill-opacity="0.8"/>
<rect x="285.22" y="281.76" width="1.0" height="103.84" fill="#2e2c2c"/>
<rect x="276.82" y="281.26" width="9.40" height="1.1" fill="#2e2c2c"/>
<text transform="translate(284.62,280.86) rotate(-90)" font-size="8.4" font-family='"Liberation Sans", Arial, sans-serif' font-weight="normal" text-anchor="start" fill="#000" textLength="19.97" lengthAdjust="spacingAndGlyphs" stroke="#000" stroke-width="0.22">72.59</text>
<rect x="287.62" y="282.78" width="9.40" height="102.82" fill="#ffe699"/>
<rect x="288.12" y="282.78" width="1.5" height="102.82" fill="rgba(70,70,70,0.35)"/>
<rect x="287.62" y="282.78" width="0.7" height="102.82" fill="#4a4124" fill-opacity="0.8"/>
<rect x="296.02" y="282.78" width="1.0" height="102.82" fill="#4a4124"/>
<rect x="287.62" y="282.28" width="9.40" height="1.1" fill="#4a4124"/>
<text transform="translate(295.42,281.88) rotate(-90)" font-size="8.4" font-family='"Liberation Sans", Arial, sans-serif' font-weight="normal" text-anchor="start" fill="#000" textLength="19.97" lengthAdjust="spacingAndGlyphs" stroke="#000" stroke-width="0.22">71.88</text>
<text x="270.72" y="398.90" font-size="8.2" font-family='"Liberation Sans", Arial, sans-serif' font-weight="normal" text-anchor="middle" fill="#000" textLength="56.0" lengthAdjust="spacingAndGlyphs" stroke="#000" stroke-width="0.42">Alpha (8 - 12Hz)</text>
<rect x="314.96" y="278.59" width="9.40" height="107.01" fill="#c5e0b3"/>
<rect x="315.46" y="278.59" width="1.5" height="107.01" fill="rgba(70,70,70,0.35)"/>
<rect x="314.96" y="278.59" width="0.7" height="107.01" fill="#34402c" fill-opacity="0.8"/>
<rect x="323.36" y="278.59" width="1.0" height="107.01" fill="#34402c"/>
<rect x="314.96" y="278.09" width="9.40" height="1.1" fill="#34402c"/>
<text transform="translate(322.76,277.69) rotate(-90)" font-size="8.4" font-family='"Liberation Sans", Arial, sans-serif' font-weight="normal" text-anchor="start" fill="#000" textLength="15.53" lengthAdjust="spacingAndGlyphs" stroke="#000" stroke-width="0.22">74.8</text>
<rect x="325.76" y="306.35" width="9.40" height="79.25" fill="#bdd7ee"/>
<rect x="326.26" y="306.35" width="1.5" height="79.25" fill="rgba(70,70,70,0.35)"/>
<rect x="325.76" y="306.35" width="0.7" height="79.25" fill="#2a3544" fill-opacity="0.8"/>
<rect x="334.16" y="306.35" width="1.0" height="79.25" fill="#2a3544"/>
<rect x="325.76" y="305.85" width="9.40" height="1.1" fill="#2a3544"/>
<text transform="translate(333.56,305.45) rotate(-90)" font-size="8.4" font-family='"Liberation Sans", Arial, sans-serif' font-weight="normal" text-anchor="start" fill="#000" textLength="19.97" lengthAdjust="spacingAndGlyphs" stroke="#000" stroke-width="0.22">55.47</text>
<rect x="336.56" y="277.04" width="9.40" height="108.56" fill="#f8cbad"/>
<rect x="337.06" y="277.04" width="1.5" height="108.56" fill="rgba(70,70,70,0.35)"/>
<rect x="336.56" y="277.04" width="0.7" height="108.56" fill="#443328" fill-opacity="0.8"/>
<rect x="344.96" y="277.04" width="1.0" height="108.56" fill="#443328"/>
<rect x="336.56" y="276.54" width="9.40" height="1.1" fill="#443328"/>
<text transform="translate(344.36,276.14) rotate(-90)" font-size="8.4" font-family='"Liberation Sans", Arial, sans-serif' font-weight="normal" text-anchor="start" fill="#000" textLength="19.97" lengthAdjust="spacingAndGlyphs" stroke="#000" stroke-width="0.22">75.88</text>
<rect x="347.36" y="284.06" width="9.40" height="101.54" fill="#aeaaaa"/>
<rect x="347.86" y="284.06" width="1.5" height="101.54" fill="rgba(70,70,70,0.35)"/>
<rect x="347.36" y="284.06" width="0.7" height="101.54" fill="#2e2c2c" fill-opacity="0.8"/>
<rect x="355.76" y="284.06" width="1.0" height="101.54" fill="#2e2c2c"/>
<rect x="347.36" y="283.56" width="9.40" height="1.1" fill="#2e2c2c"/>
<text transform="translate(355.16,283.16) rotate(-90)" font-size="8.4" font-family='"Liberation Sans", Arial, sans-serif' font-weight="normal" text-anchor="start" fill="#000" textLength="19.97" lengthAdjust="spacingAndGlyphs" stroke="#000" stroke-width="0.22">70.99</text>
<rect x="358.16" y="281.98" width="9.40" height="103.62" fill="#ffe699"/>
<rect x="358.66" y="281.98" width="1.5" height="103.62" fill="rgba(70,70,70,0.35)"/>
<rect x="358.16" y="281.98" width="0.7" height="103.62" fill="#4a4124" fill-opacity="0.8"/>
<rect x="366.56" y="281.98" width="1.0" height="103.62" fill="#4a4124"/>
<rect x="358.16" y="281.48" width="9.40" height="1.1" fill="#4a4124"/>
<text transform="translate(365.96,281.08) rotate(-90)" font-size="8.4" font-family='"Liberation Sans", Arial, sans-serif' font-weight="normal" text-anchor="start" fill="#000" textLength="19.97" lengthAdjust="spacingAndGlyphs" stroke="#000" stroke-width="0.22">72.44</text>
<text x="341.26" y="398.90" font-size="8.2" font-family='"Liberation Sans", Arial, sans-serif' font-weight="normal" text-anchor="middle" fill="#000" textLength="55.6" lengthAdjust="spacingAndGlyphs" stroke="#000" stroke-width="0.42">Beta (12 - 28Hz)</text>
<rect x="385.50" y="278.01" width="9.40" height="107.59" fill="#c5e0b3"/>
<rect x="386.00" y="278.01" width="1.5" height="107.59" fill="rgba(70,70,70,0.35)"/>
<rect x="385.50" y="278.01" width="0.7" height="107.59" fill="#34402c" fill-opacity="0.8"/>
<rect x="393.90" y="278.01" width="1.0" height="107.59" fill="#34402c"/>
<rect x="385.50" y="277.51" width="9.40" height="1.1" fill="#34402c"/>
<text transform="translate(393.30,277.11) rotate(-90)" font-size="8.4" font-family='"Liberation Sans", Arial, sans-serif' font-weight="normal" text-anchor="start" fill="#000" textLength="15.53" lengthAdjust="spacingAndGlyphs" stroke="#000" stroke-width="0.22">75.2</text>
<rect x="396.30" y="302.84" width="9.40" height="82.76" fill="#bdd7ee"/>
<rect x="396.80" y="302.84" width="1.5" height="82.76" fill="rgba(70,70,70,0.35)"/>
<rect x="396.30" y="302.84" width="0.7" height="82.76" fill="#2a3544" fill-opacity="0.8"/>
<rect x="404.70" y="302.84" width="1.0" height="82.76" fill="#2a3544"/>
<rect x="396.30" y="302.34" width="9.40" height="1.1" fill="#2a3544"/>
<text transform="translate(404.10,301.94) rotate(-90)" font-size="8.4" font-family='"Liberation Sans", Arial, sans-serif' font-weight="normal" text-anchor="start" fill="#000" textLength="19.97" lengthAdjust="spacingAndGlyphs" stroke="#000" stroke-width="0.22">57.91</text>
<rect x="407.10" y="265.78" width="9.40" height="119.82" fill="#f8cbad"/>
<rect x="407.60" y="265.78" width="1.5" height="119.82" fill="rgba(70,70,70,0.35)"/>
<rect x="407.10" y="265.78" width="0.7" height="119.82" fill="#443328" fill-opacity="0.8"/>
<rect x="415.50" y="265.78" width="1.0" height="119.82" fill="#443328"/>
<rect x="407.10" y="265.28" width="9.40" height="1.1" fill="#443328"/>
<text transform="translate(414.90,264.88) rotate(-90)" font-size="8.4" font-family='"Liberation Sans", Arial, sans-serif' font-weight="normal" text-anchor="start" fill="#000" textLength="19.97" lengthAdjust="spacingAndGlyphs" stroke="#000" stroke-width="0.22">83.72</text>
<rect x="417.90" y="278.52" width="9.40" height="107.08" fill="#aeaaaa"/>
<rect x="418.40" y="278.52" width="1.5" height="107.08" fill="rgba(70,70,70,0.35)"/>
<rect x="417.90" y="278.52" width="0.7" height="107.08" fill="#2e2c2c" fill-opacity="0.8"/>
<rect x="426.30" y="278.52" width="1.0" height="107.08" fill="#2e2c2c"/>
<rect x="417.90" y="278.02" width="9.40" height="1.1" fill="#2e2c2c"/>
<text transform="translate(425.70,277.62) rotate(-90)" font-size="8.4" font-family='"Liberation Sans", Arial, sans-serif' font-weight="normal" text-anchor="start" fill="#000" textLength="19.97" lengthAdjust="spacingAndGlyphs" stroke="#000" stroke-width="0.22">74.85</text>
<rect x="428.70" y="276.13" width="9.40" height="109.47" fill="#ffe699"/>
<rect x="429.20" y="276.13" width="1.5" height="109.47" fill="rgba(70,70,70,0.35)"/>
<rect x="428.70" y="276.13" width="0.7" height="109.47" fill="#4a4124" fill-opacity="0.8"/>
<rect x="437.10" y="276.13" width="1.0" height="109.47" fill="#4a4124"/>
<rect x="428.70" y="275.63" width="9.40" height="1.1" fill="#4a4124"/>
<text transform="translate(436.50,275.23) rotate(-90)" font-size="8.4" font-family='"Liberation Sans", Arial, sans-serif' font-weight="normal" text-anchor="start" fill="#000" textLength="19.97" lengthAdjust="spacingAndGlyphs" stroke="#000" stroke-width="0.22">76.51</text>
<text x="411.80" y="398.90" font-size="8.2" font-family='"Liberation Sans", Arial, sans-serif' font-weight="normal" text-anchor="middle" fill="#000" textLength="68.0" lengthAdjust="spacingAndGlyphs" stroke="#000" stroke-width="0.42">Gamma (28 - 40Hz)</text>
<line x1="27.8" y1="232.3" x2="27.8" y2="386" stroke="#444" stroke-width="1.1"/>
<line x1="26.5" y1="385.6" x2="446" y2="385.6" stroke="#1a1a1a" stroke-width="1.3"/>
<line x1="28" y1="312.5" x2="444.2" y2="312.5" stroke="#000" stroke-width="1.2"/>
<text x="24.20" y="244.00" font-size="8.4" font-family='"Liberation Serif", "Times New Roman", serif' font-weight="normal" text-anchor="end" fill="#000" stroke="#000" stroke-width="0.25">100</text>
<text x="23.80" y="315.80" font-size="8.4" font-family='"Liberation Serif", "Times New Roman", serif' font-weight="normal" text-anchor="end" fill="#000" stroke="#000" stroke-width="0.25">50</text>
<text x="24.50" y="386.90" font-size="8.4" font-family='"Liberation Serif", "Times New Roman", serif' font-weight="normal" text-anchor="end" fill="#000" stroke="#000" stroke-width="0.25">0</text>
<text transform="translate(15.00,327.60) rotate(-90)" font-size="11" font-family='"Liberation Serif", "Times New Roman", serif' font-weight="normal" text-anchor="start" fill="#000" stroke="#000" stroke-width="0.3">Accuracy (%)</text>
<text x="3.90" y="405.60" font-size="12.8" font-family='"Liberation Serif", "Times New Roman", serif' font-weight="bold" text-anchor="start" fill="#000">(b)</text>
<rect x="477.00" y="14.80" width="77.30" height="77.30" fill="#08306b"/>
<text x="513.00" y="55.82" font-size="8.3" font-family='"Liberation Serif", "Times New Roman", serif' font-weight="bold" text-anchor="middle" fill="#fff">31,174</text>
<rect x="554.00" y="14.80" width="77.80" height="77.30" fill="#f7fbff"/>
<text x="595.60" y="55.82" font-size="8.3" font-family='"Liberation Serif", "Times New Roman", serif' font-weight="bold" text-anchor="middle" fill="#000">2,629</text>
<rect x="477.00" y="91.80" width="77.30" height="77.40" fill="#f7fbff"/>
<text x="513.40" y="132.42" font-size="8.3" font-family='"Liberation Serif", "Times New Roman", serif' font-weight="bold" text-anchor="middle" fill="#000">2,631</text>
<rect x="554.00" y="91.80" width="77.80" height="77.40" fill="#206cb1"/>
<text x="593.80" y="132.42" font-size="8.3" font-family='"Liberation Serif", "Times New Roman", serif' font-weight="bold" text-anchor="middle" fill="#fff">24,849</text>
<rect x="477.00" y="14.80" width="154.50" height="154.10" fill="none" stroke="#555" stroke-width="0.9"/>
<line x1="474.50" y1="53.30" x2="477.00" y2="53.30" stroke="#333" stroke-width="0.8"/>
<line x1="515.50" y1="168.90" x2="515.50" y2="171.40" stroke="#333" stroke-width="0.8"/>
<line x1="474.50" y1="130.35" x2="477.00" y2="130.35" stroke="#333" stroke-width="0.8"/>
<line x1="592.75" y1="168.90" x2="592.75" y2="171.40" stroke="#333" stroke-width="0.8"/>
<text x="509.50" y="182.70" font-size="7.4" font-family='"DejaVu Serif", serif' font-weight="bold" text-anchor="middle" fill="#1a1a1a" textLength="66.1" lengthAdjust="spacingAndGlyphs">Less vulnerable</text>
<text x="589.00" y="182.40" font-size="7.4" font-family='"DejaVu Serif", serif' font-weight="bold" text-anchor="middle" fill="#1a1a1a" textLength="69.8" lengthAdjust="spacingAndGlyphs">More vulnerable</text>
<text x="545.50" y="190.30" font-size="7.4" font-family='"DejaVu Serif", serif' font-weight="bold" text-anchor="middle" fill="#1a1a1a" textLength="63.6" lengthAdjust="spacingAndGlyphs">Predicted label</text>
<text transform="translate(468.80,52.00) rotate(-90)" font-size="7.4" font-family='"DejaVu Serif", serif' font-weight="bold" text-anchor="middle" fill="#1a1a1a" textLength="66.9" lengthAdjust="spacingAndGlyphs">Less vulnerable</text>
<text transform="translate(468.80,135.60) rotate(-90)" font-size="7.4" font-family='"DejaVu Serif", serif' font-weight="bold" text-anchor="middle" fill="#1a1a1a" textLength="69.7" lengthAdjust="spacingAndGlyphs">More vulnerable</text>
<text transform="translate(459.00,96.10) rotate(-90)" font-size="7.4" font-family='"DejaVu Serif", serif' font-weight="bold" text-anchor="middle" fill="#1a1a1a" textLength="45.7" lengthAdjust="spacingAndGlyphs">True value</text>
<defs><linearGradient id="g14" x1="0" y1="0" x2="0" y2="1"><stop offset="0" stop-color="#08306b"/><stop offset="0.125" stop-color="#08519c"/><stop offset="0.25" stop-color="#2171b5"/><stop offset="0.375" stop-color="#4292c6"/><stop offset="0.5" stop-color="#6baed6"/><stop offset="0.625" stop-color="#9ecae1"/><stop offset="0.75" stop-color="#c6dbef"/><stop offset="0.875" stop-color="#deebf7"/><stop offset="1" stop-color="#f7fbff"/></linearGradient></defs>
<rect x="646.30" y="14.90" width="8.2" height="154.10" fill="url(#g14)" stroke="#666" stroke-width="0.8"/>
<line x1="654.50" y1="21.40" x2="657.30" y2="21.40" stroke="#333" stroke-width="0.8"/>
<text x="659.90" y="24.10" font-size="7.3" font-family='"DejaVu Sans", sans-serif' font-weight="normal" text-anchor="start" fill="#222">30000</text>
<line x1="654.50" y1="48.40" x2="657.30" y2="48.40" stroke="#333" stroke-width="0.8"/>
<text x="659.90" y="51.10" font-size="7.3" font-family='"DejaVu Sans", sans-serif' font-weight="normal" text-anchor="start" fill="#222">25000</text>
<line x1="654.50" y1="75.40" x2="657.30" y2="75.40" stroke="#333" stroke-width="0.8"/>
<text x="659.90" y="78.10" font-size="7.3" font-family='"DejaVu Sans", sans-serif' font-weight="normal" text-anchor="start" fill="#222">20000</text>
<line x1="654.50" y1="102.40" x2="657.30" y2="102.40" stroke="#333" stroke-width="0.8"/>
<text x="659.90" y="105.10" font-size="7.3" font-family='"DejaVu Sans", sans-serif' font-weight="normal" text-anchor="start" fill="#222">15000</text>
<line x1="654.50" y1="129.40" x2="657.30" y2="129.40" stroke="#333" stroke-width="0.8"/>
<text x="659.90" y="132.10" font-size="7.3" font-family='"DejaVu Sans", sans-serif' font-weight="normal" text-anchor="start" fill="#222">10000</text>
<line x1="654.50" y1="156.40" x2="657.30" y2="156.40" stroke="#333" stroke-width="0.8"/>
<text x="659.90" y="159.10" font-size="7.3" font-family='"DejaVu Sans", sans-serif' font-weight="normal" text-anchor="start" fill="#222">5000</text>
<rect x="471.00" y="219.40" width="79.70" height="79.60" fill="#08306b"/>
<text x="509.60" y="275.73" font-size="9.2" font-family='"Liberation Serif", "Times New Roman", serif' font-weight="normal" text-anchor="middle" fill="#fff" stroke="#fff" stroke-width="0.35">46,124</text>
<rect x="550.40" y="219.40" width="79.90" height="79.60" fill="#f0f5fc"/>
<text x="589.80" y="275.73" font-size="9.2" font-family='"Liberation Serif", "Times New Roman", serif' font-weight="normal" text-anchor="middle" fill="#000" stroke="#000" stroke-width="0.35">1,000</text>
<rect x="471.00" y="298.70" width="79.70" height="80.10" fill="#f7fbff"/>
<text x="509.70" y="341.73" font-size="9.2" font-family='"Liberation Serif", "Times New Roman", serif' font-weight="normal" text-anchor="middle" fill="#000" stroke="#000" stroke-width="0.35">800</text>
<rect x="550.40" y="298.70" width="79.90" height="80.10" fill="#08326e"/>
<text x="593.20" y="341.73" font-size="9.2" font-family='"Liberation Serif", "Times New Roman", serif' font-weight="normal" text-anchor="middle" fill="#fff" stroke="#fff" stroke-width="0.35">44,993</text>
<rect x="471.00" y="219.40" width="159.00" height="159.10" fill="none" stroke="#555" stroke-width="0.9"/>
<line x1="468.50" y1="259.05" x2="471.00" y2="259.05" stroke="#333" stroke-width="0.8"/>
<line x1="510.70" y1="378.50" x2="510.70" y2="381.00" stroke="#333" stroke-width="0.8"/>
<line x1="468.50" y1="338.60" x2="471.00" y2="338.60" stroke="#333" stroke-width="0.8"/>
<line x1="590.20" y1="378.50" x2="590.20" y2="381.00" stroke="#333" stroke-width="0.8"/>
<text x="512.80" y="388.90" font-size="7.8" font-family='"DejaVu Serif", serif' font-weight="normal" text-anchor="middle" fill="#1a1a1a" textLength="66.5" lengthAdjust="spacingAndGlyphs" stroke="#1a1a1a" stroke-width="0.35">Less vulnerable</text>
<text x="589.00" y="389.70" font-size="7.8" font-family='"DejaVu Serif", serif' font-weight="normal" text-anchor="middle" fill="#1a1a1a" textLength="69.8" lengthAdjust="spacingAndGlyphs" stroke="#1a1a1a" stroke-width="0.35">More vulnerable</text>
<text x="556.00" y="400.40" font-size="7.8" font-family='"DejaVu Serif", serif' font-weight="normal" text-anchor="middle" fill="#1a1a1a" textLength="63.4" lengthAdjust="spacingAndGlyphs" stroke="#1a1a1a" stroke-width="0.35">Predicted label</text>
<text transform="translate(468.90,261.90) rotate(-90)" font-size="7.8" font-family='"DejaVu Serif", serif' font-weight="normal" text-anchor="middle" fill="#1a1a1a" textLength="66.0" lengthAdjust="spacingAndGlyphs" stroke="#1a1a1a" stroke-width="0.35">Less vulnerable</text>
<text transform="translate(469.00,341.30) rotate(-90)" font-size="7.8" font-family='"DejaVu Serif", serif' font-weight="normal" text-anchor="middle" fill="#1a1a1a" textLength="69.4" lengthAdjust="spacingAndGlyphs" stroke="#1a1a1a" stroke-width="0.35">More vulnerable</text>
<text transform="translate(459.20,306.60) rotate(-90)" font-size="7.8" font-family='"DejaVu Serif", serif' font-weight="normal" text-anchor="middle" fill="#1a1a1a" textLength="45.6" lengthAdjust="spacingAndGlyphs" stroke="#1a1a1a" stroke-width="0.35">True value</text>
<defs><linearGradient id="g219" x1="0" y1="0" x2="0" y2="1"><stop offset="0" stop-color="#08306b"/><stop offset="0.125" stop-color="#08519c"/><stop offset="0.25" stop-color="#2171b5"/><stop offset="0.375" stop-color="#4292c6"/><stop offset="0.5" stop-color="#6baed6"/><stop offset="0.625" stop-color="#9ecae1"/><stop offset="0.75" stop-color="#c6dbef"/><stop offset="0.875" stop-color="#deebf7"/><stop offset="1" stop-color="#f7fbff"/></linearGradient></defs>
<rect x="646.00" y="219.60" width="8.2" height="158.50" fill="url(#g219)" stroke="#666" stroke-width="0.8"/>
<line x1="654.20" y1="236.40" x2="657.00" y2="236.40" stroke="#333" stroke-width="0.8"/>
<text x="659.60" y="239.10" font-size="7.3" font-family='"DejaVu Sans", sans-serif' font-weight="normal" text-anchor="start" fill="#222">40000</text>
<line x1="654.20" y1="255.24" x2="657.00" y2="255.24" stroke="#333" stroke-width="0.8"/>
<text x="659.60" y="257.94" font-size="7.3" font-family='"DejaVu Sans", sans-serif' font-weight="normal" text-anchor="start" fill="#222">35000</text>
<line x1="654.20" y1="274.08" x2="657.00" y2="274.08" stroke="#333" stroke-width="0.8"/>
<text x="659.60" y="276.78" font-size="7.3" font-family='"DejaVu Sans", sans-serif' font-weight="normal" text-anchor="start" fill="#222">30000</text>
<line x1="654.20" y1="292.92" x2="657.00" y2="292.92" stroke="#333" stroke-width="0.8"/>
<text x="659.60" y="295.62" font-size="7.3" font-family='"DejaVu Sans", sans-serif' font-weight="normal" text-anchor="start" fill="#222">25000</text>
<line x1="654.20" y1="311.76" x2="657.00" y2="311.76" stroke="#333" stroke-width="0.8"/>
<text x="659.60" y="314.46" font-size="7.3" font-family='"DejaVu Sans", sans-serif' font-weight="normal" text-anchor="start" fill="#222">20000</text>
<line x1="654.20" y1="330.60" x2="657.00" y2="330.60" stroke="#333" stroke-width="0.8"/>
<text x="659.60" y="333.30" font-size="7.3" font-family='"DejaVu Sans", sans-serif' font-weight="normal" text-anchor="start" fill="#222">15000</text>
<line x1="654.20" y1="349.44" x2="657.00" y2="349.44" stroke="#333" stroke-width="0.8"/>
<text x="659.60" y="352.14" font-size="7.3" font-family='"DejaVu Sans", sans-serif' font-weight="normal" text-anchor="start" fill="#222">10000</text>
<line x1="654.20" y1="368.28" x2="657.00" y2="368.28" stroke="#333" stroke-width="0.8"/>
<text x="659.60" y="370.98" font-size="7.3" font-family='"DejaVu Sans", sans-serif' font-weight="normal" text-anchor="start" fill="#222">5000</text>
</svg></body></html>
